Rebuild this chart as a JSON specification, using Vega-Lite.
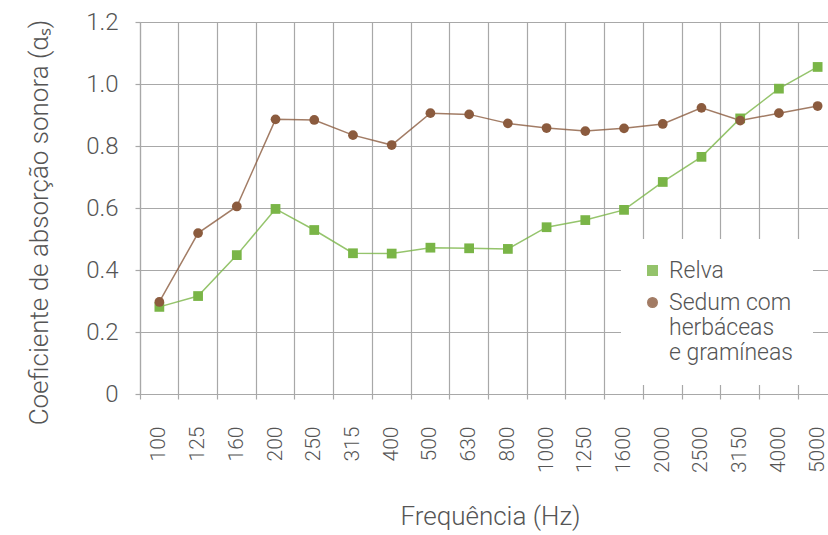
{
  "$schema": "https://vega.github.io/schema/vega-lite/v6.json",
  "width": 688,
  "height": 372,
  "autosize": {"type": "none"},
  "padding": {"left": 140, "top": 22, "right": 0, "bottom": 141},
  "background": "white",
  "config": {
    "view": {"stroke": null},
    "font": "Roboto",
    "axis": {
      "labelFont": "Roboto",
      "labelFontWeight": 300,
      "labelColor": "#555555",
      "titleFont": "Roboto",
      "titleFontWeight": 300,
      "titleColor": "#555555",
      "gridColor": "#a8a8a8",
      "gridWidth": 1.2,
      "gridOpacity": 1,
      "domainColor": "#a8a8a8",
      "domainWidth": 1.2,
      "tickColor": "#a8a8a8",
      "tickWidth": 1.2,
      "tickSize": 5
    },
    "legend": {
      "labelFont": "Roboto",
      "labelFontWeight": 300,
      "labelColor": "#555555"
    }
  },
  "data": {
    "values": [
      {"freq": "100", "serie": "Relva", "valor": 0.281},
      {"freq": "125", "serie": "Relva", "valor": 0.316},
      {"freq": "160", "serie": "Relva", "valor": 0.448},
      {"freq": "200", "serie": "Relva", "valor": 0.597},
      {"freq": "250", "serie": "Relva", "valor": 0.529},
      {"freq": "315", "serie": "Relva", "valor": 0.454},
      {"freq": "400", "serie": "Relva", "valor": 0.453},
      {"freq": "500", "serie": "Relva", "valor": 0.472},
      {"freq": "630", "serie": "Relva", "valor": 0.470},
      {"freq": "800", "serie": "Relva", "valor": 0.468},
      {"freq": "1000", "serie": "Relva", "valor": 0.538},
      {"freq": "1250", "serie": "Relva", "valor": 0.561},
      {"freq": "1600", "serie": "Relva", "valor": 0.594},
      {"freq": "2000", "serie": "Relva", "valor": 0.684},
      {"freq": "2500", "serie": "Relva", "valor": 0.765},
      {"freq": "3150", "serie": "Relva", "valor": 0.889},
      {"freq": "4000", "serie": "Relva", "valor": 0.985},
      {"freq": "5000", "serie": "Relva", "valor": 1.055},
      {"freq": "100", "serie": "Sedum com herbáceas e gramíneas", "valor": 0.297},
      {"freq": "125", "serie": "Sedum com herbáceas e gramíneas", "valor": 0.519},
      {"freq": "160", "serie": "Sedum com herbáceas e gramíneas", "valor": 0.605},
      {"freq": "200", "serie": "Sedum com herbáceas e gramíneas", "valor": 0.886},
      {"freq": "250", "serie": "Sedum com herbáceas e gramíneas", "valor": 0.884},
      {"freq": "315", "serie": "Sedum com herbáceas e gramíneas", "valor": 0.835},
      {"freq": "400", "serie": "Sedum com herbáceas e gramíneas", "valor": 0.803},
      {"freq": "500", "serie": "Sedum com herbáceas e gramíneas", "valor": 0.906},
      {"freq": "630", "serie": "Sedum com herbáceas e gramíneas", "valor": 0.902},
      {"freq": "800", "serie": "Sedum com herbáceas e gramíneas", "valor": 0.873},
      {"freq": "1000", "serie": "Sedum com herbáceas e gramíneas", "valor": 0.858},
      {"freq": "1250", "serie": "Sedum com herbáceas e gramíneas", "valor": 0.848},
      {"freq": "1600", "serie": "Sedum com herbáceas e gramíneas", "valor": 0.857},
      {"freq": "2000", "serie": "Sedum com herbáceas e gramíneas", "valor": 0.871},
      {"freq": "2500", "serie": "Sedum com herbáceas e gramíneas", "valor": 0.923},
      {"freq": "3150", "serie": "Sedum com herbáceas e gramíneas", "valor": 0.882},
      {"freq": "4000", "serie": "Sedum com herbáceas e gramíneas", "valor": 0.906},
      {"freq": "5000", "serie": "Sedum com herbáceas e gramíneas", "valor": 0.929}
    ]
  },
  "encoding": {
    "x": {
      "field": "freq",
      "type": "nominal",
      "sort": ["100","125","160","200","250","315","400","500","630","800","1000","1250","1600","2000","2500","3150","4000","5000"],
      "scale": {"type": "band", "range": [0, 697], "paddingInner": 0, "paddingOuter": 0},
      "axis": {
        "title": "Frequência (Hz)",
        "titleFontSize": 26,
        "titleX": 350,
        "titleY": 130,
        "titleBaseline": "alphabetic",
        "titleAnchor": null,
        "bandPosition": 0,
        "labelOffset": 0,
        "labelAngle": -90,
        "labelAlign": "right",
        "labelBaseline": "middle",
        "labelFontSize": 21,
        "labelPadding": 27,
        "grid": true
      }
    },
    "y": {
      "field": "valor",
      "type": "quantitative",
      "scale": {"domain": [0, 1.2], "nice": false, "zero": true},
      "axis": {
        "title": "Coeficiente de absorção sonora (αₛ)",
        "titleFontSize": 26,
        "titleAngle": -90,
        "titleX": -93,
        "titleY": 200,
        "titleAlign": "center",
        "titleBaseline": "alphabetic",
        "values": [0, 0.2, 0.4, 0.6, 0.8, 1.0, 1.2],
        "labelExpr": "datum.value == 0 ? '0' : format(datum.value, '.1f')",
        "labelFontSize": 24,
        "labelPadding": 17,
        "grid": true
      }
    }
  },
  "layer": [
    {
      "mark": {"type": "line", "strokeWidth": 1.5, "opacity": 0.8},
      "encoding": {
        "color": {
          "field": "serie",
          "type": "nominal",
          "scale": {"domain": ["Relva", "Sedum com herbáceas e gramíneas"], "range": ["#7ab547", "#8b5b3e"]}
        }
      }
    },
    {
      "mark": {"type": "point", "filled": true, "opacity": 1, "size": 95},
      "encoding": {
        "color": {
          "field": "serie",
          "type": "nominal",
          "scale": {"domain": ["Relva", "Sedum com herbáceas e gramíneas"], "range": ["#7ab547", "#8b5b3e"]},
          "legend": {
            "title": null,
            "orient": "none",
            "legendX": 481,
            "legendY": 217,
            "fillColor": "white",
            "padding": 20,
            "labelFontSize": 23,
            "labelOffset": 5,
            "symbolSize": 90,
            "rowPadding": 8,
            "labelLimit": 300,
            "encode": {"labels": {"update": {"lineHeight": {"value": 28}}}},
            "labelExpr": "datum.label == 'Sedum com herbáceas e gramíneas' ? ['Sedum com', 'herbáceas', 'e gramíneas'] : datum.label"
          }
        },
        "shape": {
          "field": "serie",
          "type": "nominal",
          "scale": {"domain": ["Relva", "Sedum com herbáceas e gramíneas"], "range": ["square", "circle"]},
          "legend": {
            "title": null,
            "orient": "none",
            "legendX": 481,
            "legendY": 217,
            "fillColor": "white",
            "padding": 20,
            "labelFontSize": 23,
            "labelOffset": 5,
            "symbolSize": 90,
            "rowPadding": 8,
            "labelLimit": 300,
            "encode": {"labels": {"update": {"lineHeight": {"value": 28}}}},
            "labelExpr": "datum.label == 'Sedum com herbáceas e gramíneas' ? ['Sedum com', 'herbáceas', 'e gramíneas'] : datum.label"
          }
        }
      }
    }
  ]
}
